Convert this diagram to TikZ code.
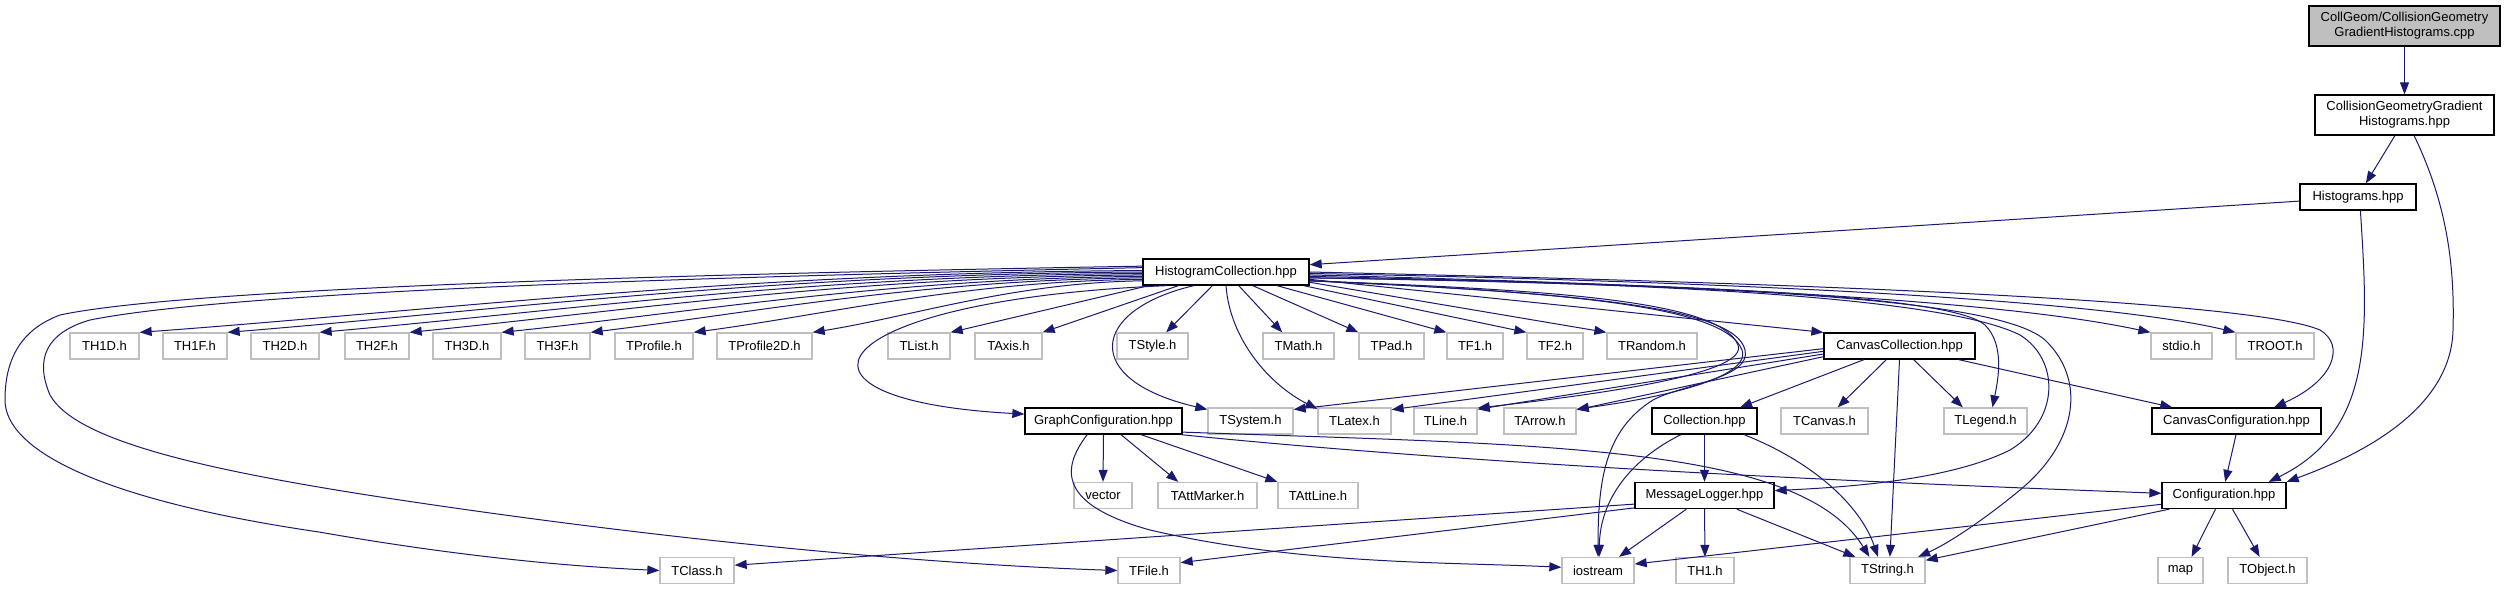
\documentclass[tikz,border=0pt]{standalone}
\usepackage{fontspec}
\setmainfont{Liberation Sans}
\usetikzlibrary{arrows.meta}
\definecolor{depblue}{HTML}{191970}
\definecolor{boxgray}{HTML}{BFBFBF}
\tikzset{
  hdr/.style={draw=boxgray, line width=1.3pt, fill=white, minimum height=26pt, inner sep=0pt, font=\fontsize{13}{15}\selectfont},
  proj/.style={hdr, draw=black},
  twoline/.style={proj, minimum height=40pt, align=center},
  dep/.style={depblue, line width=1pt, -{Triangle[length=12pt,width=9pt]}},
}
\begin{document}
\begin{tikzpicture}[x=1pt,y=-1pt]
  \useasboundingbox (0,0) rectangle (2505,589);
  % Top of the graph
  \node[twoline, fill=boxgray, minimum width=191pt] (root) at (2404.5,26) {CollGeom/CollisionGeometry\\GradientHistograms.cpp};
  \node[twoline, minimum width=179pt] (cggh) at (2404.5,115) {CollisionGeometryGradient\\Histograms.hpp};
  \node[proj, minimum width=116pt] (hist) at (2358,197) {Histograms.hpp};
  \node[proj, minimum width=166pt] (hc) at (1226,272) {HistogramCollection.hpp};
  % First row
  \node[hdr, minimum width=69pt] (th1d) at (104.5,346) {TH1D.h};
  \node[hdr, minimum width=64pt] (th1f) at (195,346) {TH1F.h};
  \node[hdr, minimum width=68pt] (th2d) at (285,346) {TH2D.h};
  \node[hdr, minimum width=64pt] (th2f) at (377,346) {TH2F.h};
  \node[hdr, minimum width=68pt] (th3d) at (467,346) {TH3D.h};
  \node[hdr, minimum width=65pt] (th3f) at (557.5,346) {TH3F.h};
  \node[hdr, minimum width=78pt] (tprof) at (654,346) {TProfile.h};
  \node[hdr, minimum width=95pt] (tproftwo) at (764.5,346) {TProfile2D.h};
  \node[hdr, minimum width=62pt] (tlist) at (919,346) {TList.h};
  \node[hdr, minimum width=67pt] (taxis) at (1008.5,346) {TAxis.h};
  \node[hdr, minimum width=71pt] (tstyle) at (1152.5,346) {TStyle.h};
  \node[hdr, minimum width=71pt] (tmath) at (1298.5,346) {TMath.h};
  \node[hdr, minimum width=65pt] (tpad) at (1391.5,346) {TPad.h};
  \node[hdr, minimum width=56pt] (tf1) at (1475,346) {TF1.h};
  \node[hdr, minimum width=56pt] (tf2) at (1555,346) {TF2.h};
  \node[hdr, minimum width=90pt] (trandom) at (1652,346) {TRandom.h};
  \node[proj, minimum width=151pt] (canvcoll) at (1899.5,346) {CanvasCollection.hpp};
  \node[hdr, minimum width=61pt] (stdio) at (2181.5,346) {stdio.h};
  \node[hdr, minimum width=78pt] (troot) at (2275,346) {TROOT.h};
  % Second row
  \node[proj, minimum width=157pt] (graphconf) at (1103.5,421) {GraphConfiguration.hpp};
  \node[hdr, minimum width=85pt] (tsystem) at (1250.5,421) {TSystem.h};
  \node[hdr, minimum width=73pt] (tlatex) at (1354.5,421) {TLatex.h};
  \node[hdr, minimum width=63pt] (tline) at (1445.5,421) {TLine.h};
  \node[hdr, minimum width=72pt] (tarrow) at (1540,421) {TArrow.h};
  \node[proj, minimum width=105pt] (coll) at (1704.5,421) {Collection.hpp};
  \node[hdr, minimum width=87pt] (tcanvas) at (1824.5,421) {TCanvas.h};
  \node[hdr, minimum width=83pt] (tlegend) at (1985.5,421) {TLegend.h};
  \node[proj, minimum width=169pt] (canvconf) at (2236.5,421) {CanvasConfiguration.hpp};
  % Third row
  \node[hdr, minimum width=58pt] (vector) at (1103,495.5) {vector};
  \node[hdr, minimum width=99pt] (tattmarker) at (1207.5,495.5) {TAttMarker.h};
  \node[hdr, minimum width=80pt] (tattline) at (1318,495.5) {TAttLine.h};
  \node[proj, minimum width=139pt] (msglog) at (1704.5,495.5) {MessageLogger.hpp};
  \node[proj, minimum width=124pt] (config) at (2224,495.5) {Configuration.hpp};
  % Last row
  \node[hdr, minimum width=74pt] (tclass) at (697,570.5) {TClass.h};
  \node[hdr, minimum width=62pt] (tfile) at (1149,570.5) {TFile.h};
  \node[hdr, minimum width=72pt] (iostream) at (1598,570.5) {iostream};
  \node[hdr, minimum width=58pt] (th1) at (1705,570.5) {TH1.h};
  \node[hdr, minimum width=75pt] (tstring) at (1887.5,570.5) {TString.h};
  \node[hdr, minimum width=45pt] (map) at (2180.5,570.5) {map};
  \node[hdr, minimum width=79pt] (tobject) at (2267.5,570.5) {TObject.h};

  % Top chain
  \draw[dep] (root.south) -- (cggh.north);
  \draw[dep] (cggh.245) -- (hist.60);
  \draw[dep] (cggh.295) .. controls (2445,200) and (2455,260) .. (2453,330) .. controls (2451,410) and (2360,455) .. (config.north east);
  \draw[dep] (hist.184) -- (hc.5);
  \draw[dep] (hist.280) .. controls (2368,330) and (2375,430) .. (config.17);

  % HistogramCollection, left side
  \draw[dep] (hc.176) .. controls (800,272) and (200,285) .. (60,315) .. controls (20,330) and (5,360) .. (5,400)
    .. controls (5,450) and (100,500) .. (319,532) .. controls (450,555) and (560,566) .. (tclass.west);
  \draw[dep] (hc.177) .. controls (800,275) and (250,288) .. (90,320) .. controls (45,333) and (35,360) .. (50,395)
    .. controls (75,440) and (200,470) .. (400,500) .. controls (700,545) and (950,565) .. (tfile.west);
  \draw[dep] (hc.179) .. controls +(-400,2) and +(300,-22) .. (th1d.north east);
  \draw[dep] (hc.180) .. controls +(-370,2) and +(270,-22) .. (th1f.north east);
  \draw[dep] (hc.181) .. controls +(-330,2) and +(250,-22) .. (th2d.north east);
  \draw[dep] (hc.182) .. controls +(-290,2) and +(220,-22) .. (th2f.north east);
  \draw[dep] (hc.183) .. controls +(-250,2) and +(190,-20) .. (th3d.north east);
  \draw[dep] (hc.184) .. controls +(-220,2) and +(165,-20) .. (th3f.north east);
  \draw[dep] (hc.185) .. controls +(-180,2) and +(135,-18) .. (tprof.north east);
  \draw[dep] (hc.186) .. controls +(-130,2) and +(100,-16) .. (tproftwo.north east);
  \draw[dep] (hc.190) -- (tlist.north east);
  \draw[dep] (hc.196) -- (taxis.north east);
  \draw[dep] (hc.193) .. controls (820,300) and (760,400) .. (graphconf.175);
  \draw[dep] (hc.203) .. controls (1090,310) and (1080,380) .. (tsystem.165);
  \draw[dep] (hc.225) -- (tstyle.45);
  \draw[dep] (hc.270) .. controls (1230,340) and (1270,385) .. (tlatex.162);
  % HistogramCollection, right side
  \draw[dep] (hc.313) -- (tmath.140);
  \draw[dep] (hc.333) -- (tpad.north west);
  \draw[dep] (hc.345) -- (tf1.north west);
  \draw[dep] (hc.350) -- (tf2.north west);
  \draw[dep] (hc.353) -- (trandom.north west);
  \draw[dep] (hc.355) -- (canvcoll.north west);
  \draw[dep] (hc.358) .. controls (1700,285) and (2000,300) .. (stdio.north west);
  \draw[dep] (hc.359) .. controls (1750,282) and (2100,300) .. (troot.north west);
  \draw[dep] (hc.0) .. controls (1800,283) and (2250,300) .. (2320,330) .. controls (2345,345) and (2335,380) .. (canvconf.20);
  \draw[dep] (hc.357) .. controls (1700,285) and (1950,295) .. (1985,325) .. controls (2005,345) and (1998,380) .. (tlegend.63);
  \draw[dep] (hc.356) .. controls (1700,283) and (1950,300) .. (2020,335) .. controls (2060,360) and (2060,420) .. (2010,450)
    .. controls (1950,480) and (1850,487) .. (msglog.4);
  \draw[dep] (hc.356) .. controls (1750,285) and (2000,300) .. (2045,340) .. controls (2085,378) and (2080,440) .. (2020,490)
    .. controls (1980,523) and (1945,545) .. (tstring.24);
  \draw[dep] (hc.354) .. controls (1550,290) and (1720,300) .. (1738,345) .. controls (1748,372) and (1620,392) .. (tline.22);
  \draw[dep] (hc.354) .. controls (1560,292) and (1725,305) .. (1742,350) .. controls (1752,378) and (1660,398) .. (tarrow.18);
  \draw[dep] (hc.354) .. controls (1560,292) and (1735,305) .. (1745,350) .. controls (1752,378) and (1680,385) .. (1653,400)
    .. controls (1605,430) and (1598,480) .. (iostream.north);

  % CanvasCollection
  \draw[dep] (canvcoll.182) -- (tsystem.15);
  \draw[dep] (canvcoll.184) -- (tlatex.17);
  \draw[dep] (canvcoll.186) -- (tline.20);
  \draw[dep] (canvcoll.188) -- (tarrow.17);
  \draw[dep] (canvcoll.201) -- (coll.21);
  \draw[dep] (canvcoll.226) -- (tcanvas.46);
  \draw[dep] (canvcoll.south) -- (tstring.80);
  \draw[dep] (canvcoll.316) -- (tlegend.149);
  \draw[dep] (canvcoll.347) -- (canvconf.168);

  % GraphConfiguration
  \draw[dep] (graphconf.south) -- (vector.north);
  \draw[dep] (graphconf.322) -- (tattmarker.155);
  \draw[dep] (graphconf.340) -- (tattline.north west);
  \draw[dep] (graphconf.220) .. controls (1060,470) and (1060,505) .. (1150,530) .. controls (1300,565) and (1450,562) .. (iostream.175);
  \draw[dep] (graphconf.352) .. controls (1550,445) and (1800,445) .. (tstring.143);
  \draw[dep] (graphconf.350) .. controls (1450,462) and (1800,480) .. (config.178);

  % Collection and MessageLogger
  \draw[dep] (coll.south) -- (msglog.north);
  \draw[dep] (coll.210) .. controls (1630,460) and (1600,500) .. (iostream.85);
  \draw[dep] (coll.341) .. controls (1820,465) and (1862,510) .. (tstring.125);
  \draw[dep] (msglog.217) -- (iostream.33);
  \draw[dep] (msglog.south) -- (th1.north);
  \draw[dep] (msglog.337) -- (tstring.157);
  \draw[dep] (msglog.187) -- (tclass.8);
  \draw[dep] (msglog.190) -- (tfile.14);

  % Configuration
  \draw[dep] (canvconf.268) -- (config.85);
  \draw[dep] (config.188) -- (iostream.10);
  \draw[dep] (config.194) -- (tstring.15);
  \draw[dep] (config.238) -- (map.51);
  \draw[dep] (config.302) -- (tobject.120);
\end{tikzpicture}
\end{document}
